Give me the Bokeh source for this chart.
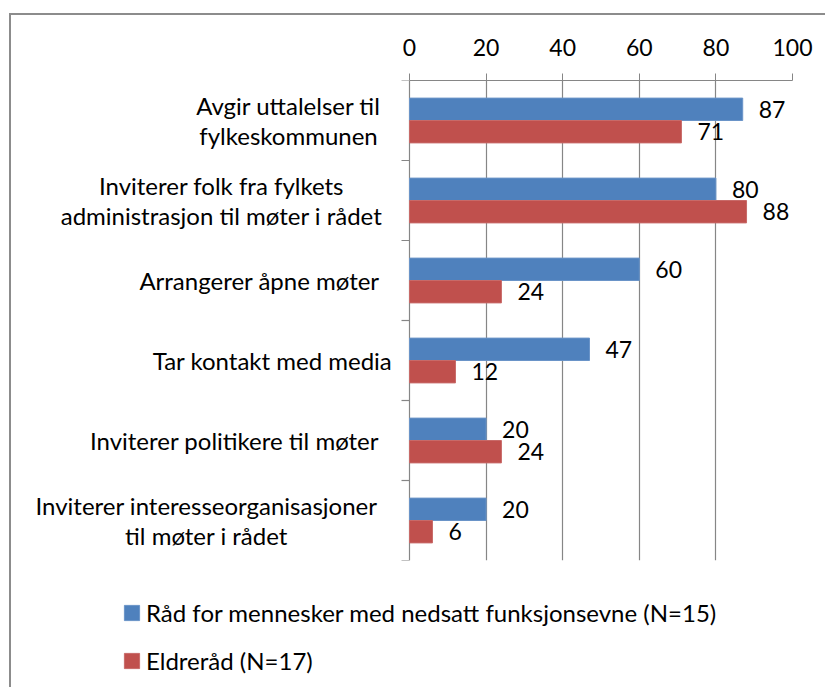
from bokeh.plotting import figure
from bokeh.layouts import column
from bokeh.models import Range1d, FixedTicker, Legend, LegendItem, ColumnDataSource
from bokeh.core.properties import value
from bokeh.embed import file_html
from bokeh.resources import INLINE

categories = [
    "Avgir uttalelser til\nfylkeskommunen",
    "Inviterer folk fra fylkets\nadministrasjon til møter i rådet",
    "Arrangerer åpne møter",
    "Tar kontakt med media",
    "Inviterer politikere til møter",
    "Inviterer interesseorganisasjoner\ntil møter i rådet",
]
funk = [87, 80, 60, 47, 20, 20]
eldre = [71, 88, 24, 12, 24, 6]
series_names = ["Råd for mennesker med nedsatt funksjonsevne (N=15)", "Eldreråd (N=17)"]
x_ticks = [0, 20, 40, 60, 80, 100]

FONT = "Lato"
FS_NUM = "23px"
FS_TXT = "24px"
BLUE = "#4F81BD"
RED = "#C0504D"
GRAY = "#868686"

n = len(categories)
yc = [n - 0.5 - i for i in range(n)]
bh = 0.28

# layout geometry (pixels)
PX_PER_UNIT = 3.83          # 100 units over 383 px
LEFT_PX = 398               # space left of the value 0 for category labels
x_start = -LEFT_PX / PX_PER_UNIT

p = figure(width=814, height=555, x_range=Range1d(x_start, 100), y_range=Range1d(0, n),
           x_axis_location="above", y_axis_location=None,
           output_backend="svg", toolbar_location=None,
           min_border_left=0, min_border_right=33, min_border_top=65, min_border_bottom=10)
p.outline_line_color = None

src_b = ColumnDataSource(dict(y=[v + bh / 2 for v in yc], x=funk, t=[str(v) for v in funk]))
src_r = ColumnDataSource(dict(y=[v - bh / 2 for v in yc], x=eldre, t=[str(v) for v in eldre]))

p.hbar(y="y", right="x", left=0, height=bh, source=src_b, fill_color=BLUE, line_color="#6A94C8", line_width=1)
p.hbar(y="y", right="x", left=0, height=bh, source=src_r, fill_color=RED, line_color="#C86A68", line_width=1)

for src in (src_b, src_r):
    p.text(x="x", y="y", text="t", source=src, x_offset=16, text_align="left", text_baseline="middle",
           text_font=value(FONT), text_font_size=FS_NUM, text_color="black")

# value axis on top
xa = p.xaxis[0]
xa.ticker = FixedTicker(ticks=x_ticks)
xa.bounds = (0, 100)
xa.axis_line_color = GRAY
xa.major_tick_line_color = GRAY
xa.major_tick_out = 7
xa.major_tick_in = 0
xa.minor_tick_line_color = None
xa.major_label_text_font = FONT
xa.major_label_text_font_size = FS_NUM
xa.major_label_text_color = "black"
xa.major_label_standoff = 18

p.xgrid.ticker = FixedTicker(ticks=x_ticks)
p.xgrid.grid_line_color = GRAY
p.xgrid.grid_line_width = 1.2
p.ygrid.visible = False

# category tick marks at the category boundaries, left of the value 0
bounds_y = list(range(n + 1))
tick_len = 8 / PX_PER_UNIT
p.segment(x0=[-tick_len] * len(bounds_y), y0=bounds_y, x1=[0] * len(bounds_y), y1=bounds_y,
          line_color=GRAY, line_width=1.2)

# category labels: each block centred, lines centred within block
centers_px = [288, 221, 259, 272, 234, 206]   # block centres, page pixels
cat_src = ColumnDataSource(dict(x=[(c - 409) / PX_PER_UNIT for c in centers_px], y=yc, t=categories))
p.text(x="x", y="y", text="t", source=cat_src, text_align="center", text_baseline="middle",
       text_font=value(FONT), text_font_size=FS_TXT, text_color="black", text_line_height=1.05)

# legend strip below the chart
lg = figure(width=814, height=117, x_range=Range1d(0, 1), y_range=Range1d(0, 1),
            x_axis_location=None, y_axis_location=None, output_backend="svg", toolbar_location=None,
            min_border=0)
lg.outline_line_color = None
lg.grid.visible = False
# legend keys (kept outside the visible range of this strip)
kb = lg.hbar(y=[-5], right=[1], left=0, height=0.1, fill_color=BLUE, line_color="#6A94C8")
kr = lg.hbar(y=[-5], right=[1], left=0, height=0.1, fill_color=RED, line_color="#C86A68")
legend = Legend(items=[LegendItem(label=series_names[0], renderers=[kb]),
                       LegendItem(label=series_names[1], renderers=[kr])],
                location=(111, 12), orientation="vertical",
                glyph_width=19, glyph_height=19, label_height=20, spacing=19, label_standoff=5,
                label_text_font=FONT, label_text_font_size=FS_TXT, label_text_color="black",
                border_line_color=None, background_fill_alpha=0, padding=0, margin=0)
lg.add_layout(legend)

layout = column(p, lg, spacing=0,
                styles={"border-left": "2px solid #8C8C8C", "border-top": "2px solid #8C8C8C",
                        "margin-left": "9px", "margin-top": "13px"})

open("out.html", "w").write(file_html(layout, INLINE))
